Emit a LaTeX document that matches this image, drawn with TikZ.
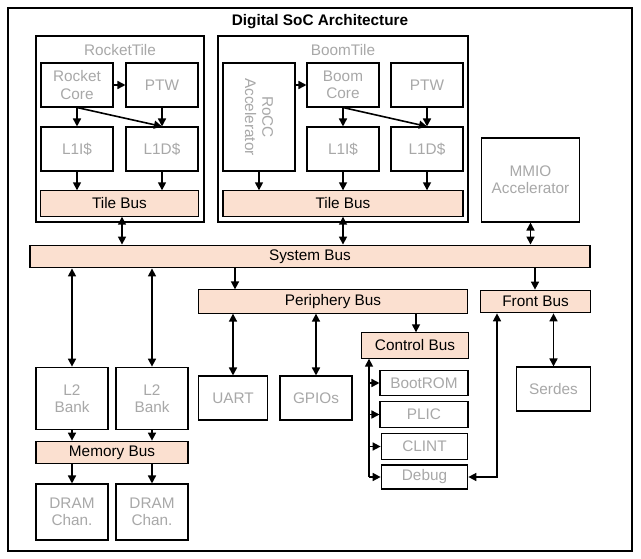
\documentclass[tikz,border=0pt]{standalone}
\usepackage{fontspec}
\setmainfont{Liberation Sans}
\usetikzlibrary{arrows.meta}
\definecolor{busfill}{HTML}{FBE0D0}
\definecolor{gtext}{HTML}{A8A8A8}
\begin{document}
\begin{tikzpicture}[x=0.75pt,y=-0.75pt,
 blk/.style={draw=black,thick,text=gtext,align=center,font=\fontsize{11.5}{13}\selectfont},
 bus/.style={draw=black,thick,fill=busfill,font=\fontsize{11.5}{13}\selectfont},
 tile/.style={draw=black,line width=2.2pt},
 ar/.style={-{Triangle[length=6pt,width=6pt]},line width=1.2pt},
 dar/.style={{Triangle[length=6pt,width=6pt]}-{Triangle[length=6pt,width=6pt]},line width=1.2pt}]
\useasboundingbox (0,0) rectangle (641,559);
\fill[white] (0,0) rectangle (641,559);
\draw[line width=2pt] (8,8) rectangle (632,551);
\node[font=\bfseries\fontsize{11.5}{13}\selectfont] (title) at (320,22) {Digital SoC Architecture};
% Rocket tile
\draw[tile] (36,36) rectangle (204,222);
\node[text=gtext,font=\fontsize{11.5}{13}\selectfont] (rtl) at (120,50) {RocketTile};
\node[blk,minimum width=54pt,minimum height=33pt] (rcore) at (77,85) {Rocket\\Core};
\node[blk,minimum width=54pt,minimum height=33pt] (rptw) at (162,85) {PTW};
\node[blk,minimum width=54pt,minimum height=33pt] (rl1i) at (77,149) {L1I\$};
\node[blk,minimum width=54pt,minimum height=33pt] (rl1d) at (162,149) {L1D\$};
\node[bus,minimum width=118pt,minimum height=19pt] (rtb) at (119.5,203.5) {Tile Bus};
% Boom tile
\draw[tile] (218,36) rectangle (468,222);
\node[text=gtext,font=\fontsize{11.5}{13}\selectfont] (btl) at (343,50) {BoomTile};
\node[blk,minimum width=54pt,minimum height=81pt] (rocc) at (259,117) {};
\node[text=gtext,align=center,rotate=-90,font=\fontsize{11.5}{13}\selectfont] (rocct) at (259,117) {RoCC\\Accelerator};
\node[blk,minimum width=54pt,minimum height=33pt] (bcore) at (343,85) {Boom\\Core};
\node[blk,minimum width=54pt,minimum height=33pt] (bptw) at (427,85) {PTW};
\node[blk,minimum width=54pt,minimum height=33pt] (bl1i) at (343,149) {L1I\$};
\node[blk,minimum width=54pt,minimum height=33pt] (bl1d) at (427,149) {L1D\$};
\node[bus,minimum width=180pt,minimum height=19pt] (btb) at (343,203.5) {Tile Bus};
\node[blk,minimum width=74pt,minimum height=63pt] (mmio) at (530.5,180) {MMIO\\Accelerator};
% buses
\node[bus,minimum width=420pt,minimum height=17pt] (sb) at (310,256.5) {System Bus};
\node[bus,minimum width=202pt,minimum height=17pt] (pb) at (333,301.5) {Periphery Bus};
\node[bus,minimum width=82pt,minimum height=17pt] (fb) at (535.5,301.5) {Front Bus};
\node[bus,minimum width=80pt,minimum height=19pt] (cb) at (415,345.5) {Control Bus};
\node[blk,minimum width=66pt,minimum height=19pt] (boot) at (424,383) {BootROM};
\node[blk,minimum width=66pt,minimum height=19pt] (plic) at (424,414.5) {PLIC};
\node[blk,minimum width=65pt,minimum height=19pt] (clint) at (424.5,446.5) {CLINT};
\node[blk,minimum width=65pt,minimum height=18pt] (dbg) at (424.5,477) {Debug};
\node[blk,minimum width=55pt,minimum height=33pt] (serdes) at (553.5,389) {Serdes};
\node[blk,minimum width=52pt,minimum height=33pt] (uart) at (233,398) {UART};
\node[blk,minimum width=54pt,minimum height=33pt] (gpio) at (316,398) {GPIOs};
\node[blk,minimum width=54pt,minimum height=47pt] (l2a) at (72,398.5) {L2\\Bank};
\node[blk,minimum width=54pt,minimum height=47pt] (l2b) at (152,398.5) {L2\\Bank};
\node[bus,minimum width=114pt,minimum height=17pt] (mb) at (112,452.5) {Memory Bus};
\node[blk,minimum width=54pt,minimum height=42pt] (dra) at (72,512) {DRAM\\Chan.};
\node[blk,minimum width=54pt,minimum height=42pt] (drb) at (152,512) {DRAM\\Chan.};
% arrows rocket
\draw[ar] (rcore.east) -- (rptw.west);
\draw[ar] (rcore.south) -- (rl1i.north);
\draw[ar] (rcore.south) -- (rl1d.north);
\draw[ar] (rptw.south) -- (rl1d.north);
\draw[ar] (rl1i.south) -- (rtb.north -| rl1i);
\draw[ar] (rl1d.south) -- (rtb.north -| rl1d);
\draw[dar] (rtb.south -| 122,0) -- (sb.north -| 122,0);
% boom
\draw[ar] (rocc.east |- bcore) -- (bcore.west);
\draw[ar] (rocc.south) -- (btb.north -| rocc);
\draw[ar] (bcore.south) -- (bl1i.north);
\draw[ar] (bcore.south) -- (bl1d.north);
\draw[ar] (bptw.south) -- (bl1d.north);
\draw[ar] (bl1i.south) -- (btb.north -| bl1i);
\draw[ar] (bl1d.south) -- (btb.north -| bl1d);
\draw[dar] (btb.south) -- (sb.north -| btb);
\draw[dar] (mmio.south) -- (sb.north -| mmio);
% system
\draw[dar] (sb.south -| l2a) -- (l2a.north);
\draw[dar] (sb.south -| l2b) -- (l2b.north);
\draw[ar] (sb.south -| 235,0) -- (pb.north -| 235,0);
\draw[ar] (sb.south -| 535,0) -- (fb.north -| 535,0);
\draw[dar] (pb.south -| uart) -- (uart.north);
\draw[dar] (pb.south -| gpio) -- (gpio.north);
\draw[ar] (pb.south -| 416,0) -- (cb.north -| 416,0);
\draw[dar] (fb.south -| serdes) -- (serdes.north);
\draw[ar] (l2a.south) -- (mb.north -| l2a);
\draw[ar] (l2b.south) -- (mb.north -| l2b);
\draw[ar] (mb.south -| dra) -- (dra.north);
\draw[ar] (mb.south -| drb) -- (drb.north);
% control bus tree
\coordinate (cbx) at (369,477);
\draw[ar] (cbx) -- (cb.south -| cbx);
\draw[ar] (boot.west -| cbx) -- (boot.west);
\draw[ar] (plic.west -| cbx) -- (plic.west);
\draw[ar] (clint.west -| cbx) -- (clint.west);
\draw[ar] (cbx) -- (dbg.west);
\coordinate (fbx) at (497,477);
\draw[dar] (dbg.east) -- (fbx) -- (fb.south -| fbx);
\end{tikzpicture}
\end{document}
